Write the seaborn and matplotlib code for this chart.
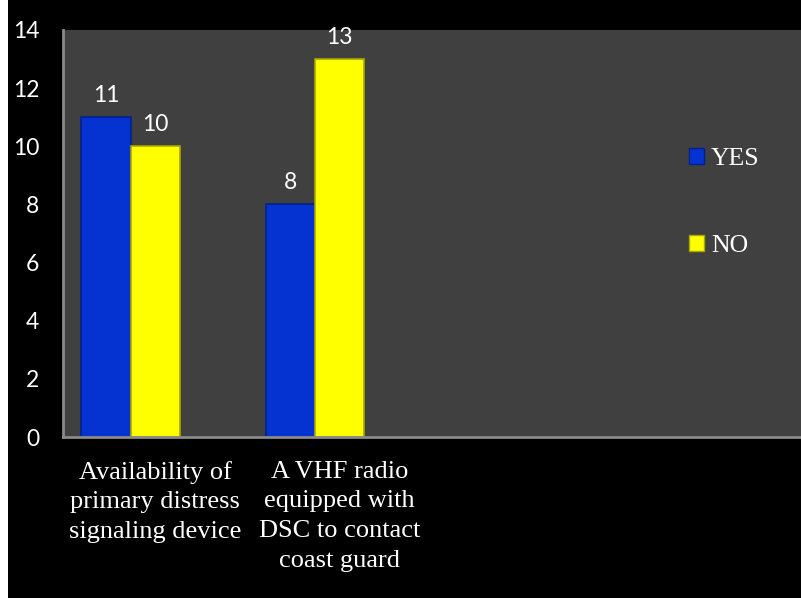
import matplotlib
matplotlib.use("Agg")
import matplotlib.pyplot as plt
from matplotlib.patches import Patch, Rectangle
import seaborn as sns
import pandas as pd

# dados
categorias = ["Availability of\nprimary distress\nsignaling device",
              "A VHF radio\nequipped with\nDSC to contact\ncoast guard"]
sim = [11, 8]
nao = [10, 13]
series = ["YES", "NO", " "]   # terceira serie vazia, como no Excel
cores = {"YES": "#0533D2", "NO": "#FFFF00", " ": "#000000"}
bordas = {"YES": "#02208A", "NO": "#A8A800"}
yticks = [0, 2, 4, 6, 8, 10, 12, 14]

df = pd.DataFrame({
    "categoria": categorias * 2,
    "resposta": ["YES"] * len(sim) + ["NO"] * len(nao),
    "valor": sim + nao,
})

sns.set_style("dark")
plt.rcParams["font.family"] = ["Liberation Serif", "DejaVu Serif"]

fig = plt.figure(figsize=(8.01, 5.98), dpi=100)
fig.patch.set_facecolor("white")
fig.add_artist(Rectangle((8 / 801, 0), 1, 1, transform=fig.transFigure,
                         facecolor="black", edgecolor="none", zorder=-5))
ax = fig.add_axes([63 / 801, (598 - 437) / 598, 738 / 801, 407 / 598])
ax.set_facecolor("#404040")

sns.barplot(data=df, x="categoria", y="valor", hue="resposta",
            hue_order=series, palette=cores, width=0.8, gap=0,
            order=categorias, legend=False, ax=ax, saturation=1)

for cont, nome in zip(ax.containers, ["YES", "NO"]):
    for barra in cont:
        barra.set_edgecolor(bordas[nome])
        barra.set_linewidth(1.2)
    ax.bar_label(cont, fmt="%d", padding=8, color="white",
                 fontsize=16.5, family=["Lato", "DejaVu Sans"])

ax.set_xlim(-0.5, 3.5)
ax.set_ylim(0, 14)
ax.set_yticks(yticks)
ax.set_xlabel("")
ax.set_ylabel("")
ax.grid(False)

ax.tick_params(axis="y", length=0, pad=17, labelcolor="white", labelsize=16.5)
for t in ax.get_yticklabels():
    t.set_family(["Lato", "DejaVu Sans"])
ax.tick_params(axis="x", length=0, pad=17, labelcolor="white", labelsize=19)
for t in ax.get_xticklabels():
    t.set_linespacing(1.45)

for lado in ["top", "right"]:
    ax.spines[lado].set_visible(False)
for lado in ["left", "bottom"]:
    ax.spines[lado].set_visible(True)
    ax.spines[lado].set_color("#8a8a8a")
    ax.spines[lado].set_linewidth(2)

handles = [Patch(facecolor=cores[s], edgecolor=bordas[s]) for s in ["YES", "NO"]]
leg = fig.legend(handles, ["YES", "NO"], loc="center left",
                 bbox_to_anchor=(689 / 801, 1 - 202.5 / 598),
                 frameon=False, fontsize=18.5, labelcolor="white",
                 handlelength=0.6, handleheight=0.6, handletextpad=0.25,
                 labelspacing=2.5, borderpad=0, borderaxespad=0)

fig.savefig("out.png", dpi=100, facecolor=fig.get_facecolor())
